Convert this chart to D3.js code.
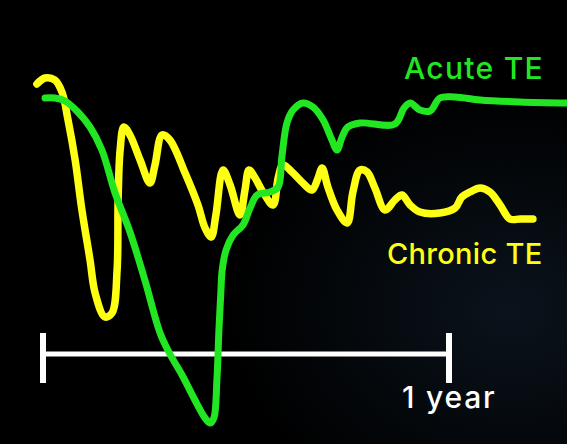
<!DOCTYPE html>
<html>
<head>
<meta charset="utf-8">
<script src="https://cdn.jsdelivr.net/npm/d3@7"></script>
<style>
  html, body { margin: 0; padding: 0; background: #000; }
  svg { display: block; }
</style>
</head>
<body>
<div id="chart"></div>
<script>
// TE level over time (months)

var chronicMonths = [-0.18, 0.06, 0.35, 0.56, 0.74, 0.95, 1.15, 1.39, 1.54, 1.83, 2.04, 2.19, 2.22, 2.28, 2.39, 2.57, 2.87, 3.16, 3.31, 3.52, 3.75,
    4.20, 4.58, 4.79, 4.97, 5.11, 5.32, 5.53, 5.82, 5.97, 6.09, 6.27, 6.50, 6.80, 6.95, 7.09, 7.36, 7.68, 7.95, 8.13, 8.25, 8.42, 8.69, 8.99,
    9.16, 9.37, 9.58, 9.81, 10.11, 10.40, 10.61, 10.85, 11.14, 11.73, 12.18, 12.38, 12.62, 12.92, 13.21, 13.51, 13.80, 14.10, 14.48];
var chronicLevel = [89, 90.5, 90, 87, 80, 70, 57.5, 45, 36.75, 30.75, 31.75, 42.5, 60, 72.5, 78.25, 76.25, 70, 64.25, 68.75, 76.25, 75,
    66.75, 58.75, 53, 50.75, 56.25, 67.5, 63.75, 56.25, 62.5, 67.5, 65.5, 62, 58.75, 65.5, 68.75, 67, 64.25, 62.5, 65.5, 68, 63.25, 57.5, 54.25,
    62, 67.5, 67, 63, 57.5, 60, 61.25, 58.75, 57, 56.75, 58, 60.75, 62, 63, 62, 58.75, 55.25, 55.25, 55.25];

var acuteMonths = [0.06, 0.35, 0.65, 1.03, 1.39, 1.74, 2.13, 2.57, 3.01, 3.46, 3.75, 4.11, 4.49, 4.79, 4.94, 5.05, 5.14, 5.20, 5.26, 5.29, 5.41,
    5.62, 5.91, 6.12, 6.33, 6.71, 6.95, 7.06, 7.21, 7.39, 7.68, 7.98, 8.28, 8.54, 8.69, 8.84, 9.01, 9.37, 10.40, 10.67, 10.85, 11.14, 11.44,
    11.73, 12.18, 12.92, 14.10, 15.49];
var acuteLevel = [85.5, 85.5, 84.75, 82, 78.25, 72.5, 61.75, 52, 40, 26.75, 21.5, 16.25, 10, 5.5, 4.25, 5.5, 15, 27.5, 37.5, 42, 47.5,
    51.25, 53.75, 58, 61.25, 62, 63.25, 70.75, 79.25, 82.5, 84.25, 83.25, 80, 75, 72.5, 75.75, 78.25, 79.25, 79, 83, 84.25, 82.5, 82.25,
    85.5, 85.75, 85, 84.5, 84.25];

var scaleBarMonths = [0, 12];
var scaleBarLabel = "1 year";
var seriesNames = ["Acute TE", "Chronic TE"];
var seriesColors = ["#22e622", "#ffff14"];

var width = 567, height = 444;
var font = "Inter, 'Liberation Sans', sans-serif";

var svg = d3.select("#chart").append("svg")
    .attr("width", width)
    .attr("height", height);

// faint dark texture on the right like the photo background
var defs = svg.append("defs");
var grad = defs.append("radialGradient").attr("id", "bg")
    .attr("cx", "0.9").attr("cy", "0.7").attr("r", "0.5");
grad.append("stop").attr("offset", "0%").attr("stop-color", "#0a131c");
grad.append("stop").attr("offset", "100%").attr("stop-color", "#000");
svg.append("rect").attr("width", width).attr("height", height).attr("fill", "url(#bg)");

var x = d3.scaleLinear().domain([0, 12]).range([43, 449]);
var y = d3.scaleLinear().domain([0, 100]).range([440, 40]);

var line = d3.line()
    .x(function(d) { return x(d[0]); })
    .y(function(d) { return y(d[1]); })
    .curve(d3.curveCatmullRom.alpha(0.5));

var acute = acuteMonths.map(function(m, i) { return [m, acuteLevel[i]]; });
var chronic = chronicMonths.map(function(m, i) { return [m, chronicLevel[i]]; });

// scale bar
var barY = 354;
svg.append("line")
    .attr("x1", x(scaleBarMonths[0])).attr("x2", x(scaleBarMonths[1]))
    .attr("y1", barY).attr("y2", barY)
    .attr("stroke", "#fff").attr("stroke-width", 5);
scaleBarMonths.forEach(function(m) {
    svg.append("line")
        .attr("x1", x(m)).attr("x2", x(m))
        .attr("y1", barY - 21).attr("y2", barY + 29)
        .attr("stroke", "#fff").attr("stroke-width", 6);
});
svg.append("text")
    .attr("x", x(scaleBarMonths[1]) - 47)
    .attr("y", 408)
    .attr("fill", "#fff")
    .attr("font-family", font)
    .attr("font-weight", 500)
    .attr("font-size", 30)
    .attr("letter-spacing", 1.8)
    .text(scaleBarLabel);

// chronic drawn first, acute on top
svg.append("path")
    .datum(chronic)
    .attr("d", line)
    .attr("fill", "none")
    .attr("stroke", seriesColors[1])
    .attr("stroke-width", 7.5)
    .attr("stroke-linecap", "round")
    .attr("stroke-linejoin", "round");

svg.append("path")
    .datum(acute)
    .attr("d", line)
    .attr("fill", "none")
    .attr("stroke", seriesColors[0])
    .attr("stroke-width", 7)
    .attr("stroke-linecap", "round")
    .attr("stroke-linejoin", "round");

// labels
svg.append("text")
    .attr("x", 404).attr("y", 79)
    .attr("fill", seriesColors[0])
    .attr("font-family", font)
    .attr("font-weight", 500)
    .attr("font-size", 30)
    .attr("letter-spacing", 1.3)
    .text(seriesNames[0]);

svg.append("text")
    .attr("x", 387).attr("y", 264)
    .attr("fill", seriesColors[1])
    .attr("font-family", font)
    .attr("font-weight", 500)
    .attr("font-size", 29)
    .attr("letter-spacing", 0.3)
    .text(seriesNames[1]);
</script>
</body>
</html>
